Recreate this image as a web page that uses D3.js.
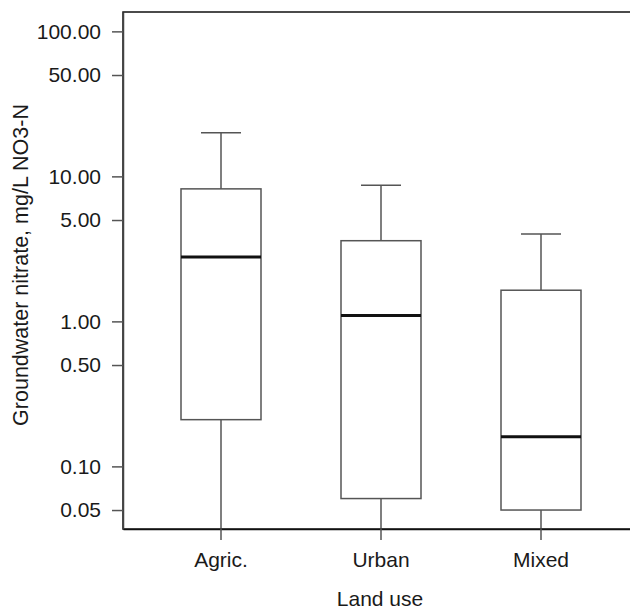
<!DOCTYPE html>
<html lang="en">
  <head>
    <meta charset="UTF-8" />
    <title>Groundwater nitrate by land use</title>
    <script src="https://d3js.org/d3.v7.min.js"></script>
    <style>
      body { margin: 0; background: #fff; }
      text { font-family: "Liberation Sans", Arial, sans-serif; fill: #1a1a1a; }
    </style>
  </head>
  <body>
    <svg width="630" height="610"></svg>

    <script>
      // box-plot statistics (mg/L NO3-N)
      var categories = ["Agric.", "Urban", "Mixed"];
      var whiskerHigh = [20.0, 8.7, 4.0];
      var q3 = [8.2, 3.6, 1.64];
      var median = [2.78, 1.1, 0.16];
      var q1 = [0.21, 0.06, 0.05];
      var whiskerLow = [0.01, 0.01, 0.01]; // below the axis, clipped
      var yTicks = [0.05, 0.1, 0.5, 1, 5, 10, 50, 100];

      var svg = d3.select("svg");
      var plotLeft = 123, plotRight = 639, plotTop = 12, plotBottom = 529;

      var x = d3
        .scaleBand()
        .domain(categories)
        .range([plotLeft, plotRight])
        .paddingInner(0.5)
        .paddingOuter(0.3625);

      var y = d3
        .scaleLog()
        .domain([0.037, 136])
        .range([plotBottom, plotTop])
        .clamp(true);

      var boxes = categories.map(function (c, i) {
        return { cat: c, hi: whiskerHigh[i], q3: q3[i], med: median[i], q1: q1[i], lo: whiskerLow[i] };
      });

      // plot frame
      svg
        .append("rect")
        .attr("x", plotLeft)
        .attr("y", plotTop)
        .attr("width", plotRight - plotLeft)
        .attr("height", plotBottom - plotTop)
        .attr("fill", "none")
        .attr("stroke", "#111")
        .attr("stroke-width", 1.5);

      var g = svg.selectAll("g.box").data(boxes).enter().append("g").attr("class", "box");
      var bw = x.bandwidth();

      // whiskers
      g.append("line")
        .attr("x1", function (d) { return x(d.cat) + bw / 2; })
        .attr("x2", function (d) { return x(d.cat) + bw / 2; })
        .attr("y1", function (d) { return y(d.hi); })
        .attr("y2", function (d) { return y(d.lo); })
        .attr("stroke", "#555")
        .attr("stroke-width", 1.5);

      // whisker caps (upper only; lower ones are off the axis)
      g.append("line")
        .attr("x1", function (d) { return x(d.cat) + bw / 4; })
        .attr("x2", function (d) { return x(d.cat) + (bw * 3) / 4; })
        .attr("y1", function (d) { return y(d.hi); })
        .attr("y2", function (d) { return y(d.hi); })
        .attr("stroke", "#555")
        .attr("stroke-width", 1.5);

      // boxes
      g.append("rect")
        .attr("x", function (d) { return x(d.cat); })
        .attr("width", bw)
        .attr("y", function (d) { return y(d.q3); })
        .attr("height", function (d) { return y(d.q1) - y(d.q3); })
        .attr("fill", "#fff")
        .attr("stroke", "#555")
        .attr("stroke-width", 1.5);

      // medians
      g.append("line")
        .attr("x1", function (d) { return x(d.cat); })
        .attr("x2", function (d) { return x(d.cat) + bw; })
        .attr("y1", function (d) { return y(d.med); })
        .attr("y2", function (d) { return y(d.med); })
        .attr("stroke", "#111")
        .attr("stroke-width", 3);

      // axes
      var yAxis = svg
        .append("g")
        .attr("transform", "translate(" + plotLeft + ",0)")
        .call(
          d3.axisLeft(y).tickValues(yTicks).tickFormat(d3.format(".2f"))
            .tickSize(11).tickSizeOuter(0).tickPadding(11)
        );

      var xAxis = svg
        .append("g")
        .attr("transform", "translate(0," + plotBottom + ")")
        .call(d3.axisBottom(x).tickSize(11).tickSizeOuter(0).tickPadding(12));

      [yAxis, xAxis].forEach(function (a) {
        a.select(".domain").attr("stroke", "#111").attr("stroke-width", 1.5);
        a.selectAll(".tick line").attr("stroke", "#555").attr("stroke-width", 1.5);
        a.selectAll(".tick text").attr("font-size", 21).attr("fill", "#1a1a1a");
      });
      yAxis.select(".domain").attr("stroke", "#444");

      // axis titles
      svg
        .append("text")
        .attr("x", (plotLeft + plotRight) / 2 - 1)
        .attr("y", 606)
        .attr("text-anchor", "middle")
        .attr("font-size", 21)
        .text("Land use");

      svg
        .append("text")
        .attr("transform", "translate(28,265) rotate(-90)")
        .attr("text-anchor", "middle")
        .attr("font-size", 21.5)
        .text("Groundwater nitrate, mg/L NO3-N");
    </script>
  </body>
</html>
